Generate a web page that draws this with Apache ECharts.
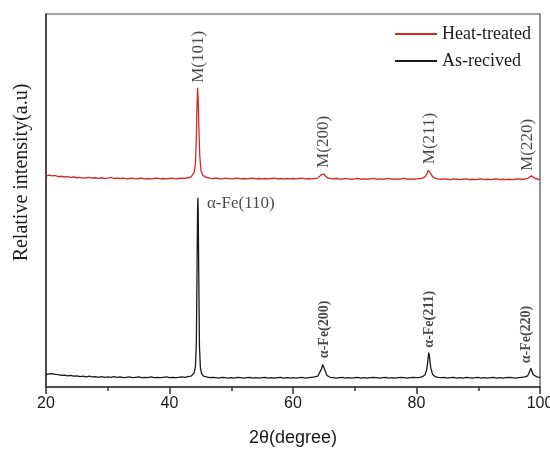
<!DOCTYPE html>
<html>
<head>
<meta charset="utf-8">
<script src="https://cdn.jsdelivr.net/npm/echarts@6/dist/echarts.min.js"></script>
<style>
  html, body { margin: 0; padding: 0; background: #fff; overflow: hidden; }
  #chart { width: 550px; height: 450px; }
</style>
</head>
<body>
<div id="chart"></div>
<script>
// XRD patterns: [2θ (degree), relative intensity]
const heatTreated = [
  [20, 56.5], [20.5, 56.8], [21, 56.6], [21.5, 56.7], [22, 56.4], [22.5, 56.5], [23, 56.3], [23.5, 56.4],
  [24, 56.2], [24.5, 56.3], [25, 56.1], [25.5, 56.2], [26, 56.0], [26.5, 56.1], [27, 56.2], [27.5, 56.0],
  [28, 56.1], [28.5, 55.9], [29, 56.1], [29.5, 55.9], [30, 56.0], [30.5, 56.2], [31, 55.9], [31.5, 56.0],
  [32, 55.9], [32.5, 56.0], [33, 55.8], [33.5, 55.9], [34, 56.0], [34.5, 55.8], [35, 55.9], [35.5, 56.0],
  [36, 55.8], [36.5, 55.9], [37, 55.8], [37.5, 55.9], [38, 56.0], [38.5, 55.8], [39, 55.9], [39.5, 55.8],
  [40, 55.9], [40.5, 56.0], [41, 55.8], [41.5, 55.9], [42, 56.0], [42.5, 55.9], [43, 56.1], [43.5, 56.3],
  [43.8, 56.8], [44.0, 57.6], [44.2, 60.0], [44.35, 67.0], [44.45, 75.0], [44.55, 80.2], [44.65, 77.0],
  [44.75, 70.0], [44.9, 62.0], [45.1, 58.0], [45.4, 56.8], [45.8, 56.3], [46, 56.1], [46.5, 56.0],
  [47, 55.9], [47.5, 56.0], [48, 55.9], [48.5, 55.8], [49, 56.0], [49.5, 55.9], [50, 55.8], [50.5, 55.9],
  [51, 56.0], [51.5, 55.8], [52, 55.9], [52.5, 55.8], [53, 55.9], [53.5, 56.0], [54, 55.8], [54.5, 55.9],
  [55, 55.8], [55.5, 55.9], [56, 55.8], [56.5, 55.9], [57, 56.0], [57.5, 55.8], [58, 55.9], [58.5, 55.8],
  [59, 55.9], [59.5, 55.8], [60, 55.9], [60.5, 55.8], [61, 55.9], [61.5, 56.0], [62, 55.8], [62.5, 55.9],
  [63, 55.8], [63.5, 55.9], [64, 56.0], [64.3, 56.3], [64.6, 56.9], [64.8, 57.4], [65.0, 57.1], [65.3, 56.5],
  [65.7, 56.0], [66, 55.9], [66.5, 55.8], [67, 55.9], [67.5, 55.8], [68, 55.7], [68.5, 55.9], [69, 55.8],
  [69.5, 55.7], [70, 55.8], [70.5, 55.9], [71, 55.7], [71.5, 55.8], [72, 55.7], [72.5, 55.8], [73, 55.9],
  [73.5, 55.7], [74, 55.8], [74.5, 55.7], [75, 55.8], [75.5, 55.9], [76, 55.7], [76.5, 55.8], [77, 55.7],
  [77.5, 55.8], [78, 55.9], [78.5, 55.7], [79, 55.8], [79.5, 55.7], [80, 55.8], [80.5, 55.9], [81, 56.0],
  [81.4, 56.4], [81.7, 57.2], [81.9, 58.1], [82.0, 58.4], [82.1, 58.1], [82.3, 57.2], [82.6, 56.4], [83, 56.0],
  [83.5, 55.8], [84, 55.7], [84.5, 55.8], [85, 55.7], [85.5, 55.6], [86, 55.8], [86.5, 55.7], [87, 55.6],
  [87.5, 55.7], [88, 55.8], [88.5, 55.6], [89, 55.7], [89.5, 55.6], [90, 55.7], [90.5, 55.8], [91, 55.6],
  [91.5, 55.7], [92, 55.6], [92.5, 55.7], [93, 55.8], [93.5, 55.6], [94, 55.7], [94.5, 55.6], [95, 55.7],
  [95.5, 55.6], [96, 55.7], [96.5, 55.8], [97, 55.7], [97.5, 55.7], [98, 55.9], [98.3, 56.2], [98.6, 56.6],
  [98.9, 56.3], [99.2, 55.9], [99.5, 55.7], [100, 55.6]
];

const asReceived = [
  [20, 3.3], [20.5, 3.5], [21, 3.6], [21.5, 3.4], [22, 3.3], [22.5, 3.1], [23, 3.2], [23.5, 3.0],
  [24, 3.1], [24.5, 2.9], [25, 3.0], [25.5, 2.8], [26, 2.9], [26.5, 2.7], [27, 2.9], [27.5, 2.7],
  [28, 2.8], [28.5, 2.6], [29, 2.8], [29.5, 2.6], [30, 2.7], [30.5, 2.6], [31, 2.8], [31.5, 2.6],
  [32, 2.7], [32.5, 2.5], [33, 2.6], [33.5, 2.7], [34, 2.5], [34.5, 2.6], [35, 2.7], [35.5, 2.5],
  [36, 2.6], [36.5, 2.5], [37, 2.7], [37.5, 2.5], [38, 2.6], [38.5, 2.5], [39, 2.6], [39.5, 2.7],
  [40, 2.5], [40.5, 2.6], [41, 2.5], [41.5, 2.6], [42, 2.7], [42.5, 2.6], [43, 2.8], [43.5, 2.9],
  [43.8, 3.2], [44.0, 3.8], [44.2, 5.5], [44.35, 12.0], [44.45, 30.0], [44.55, 48.0], [44.6, 50.7],
  [44.65, 47.0], [44.75, 28.0], [44.85, 11.0], [45.0, 5.2], [45.2, 3.6], [45.5, 2.9], [46, 2.7],
  [46.5, 2.5], [47, 2.6], [47.5, 2.5], [48, 2.4], [48.5, 2.6], [49, 2.5], [49.5, 2.4], [50, 2.5],
  [50.5, 2.4], [51, 2.6], [51.5, 2.5], [52, 2.4], [52.5, 2.5], [53, 2.6], [53.5, 2.4], [54, 2.5],
  [54.5, 2.4], [55, 2.5], [55.5, 2.6], [56, 2.4], [56.5, 2.5], [57, 2.4], [57.5, 2.5], [58, 2.6],
  [58.5, 2.4], [59, 2.5], [59.5, 2.4], [60, 2.5], [60.5, 2.4], [61, 2.5], [61.5, 2.6], [62, 2.4],
  [62.5, 2.5], [63, 2.6], [63.5, 2.7], [64, 2.9], [64.3, 3.4], [64.6, 4.8], [64.8, 6.0], [64.9, 6.4],
  [65.0, 6.0], [65.2, 4.4], [65.5, 3.1], [66, 2.6], [66.5, 2.5], [67, 2.4], [67.5, 2.5], [68, 2.6],
  [68.5, 2.4], [69, 2.5], [69.5, 2.4], [70, 2.5], [70.5, 2.6], [71, 2.4], [71.5, 2.5], [72, 2.4],
  [72.5, 2.5], [73, 2.6], [73.5, 2.5], [74, 2.4], [74.5, 2.5], [75, 2.6], [75.5, 2.4], [76, 2.5],
  [76.5, 2.4], [77, 2.5], [77.5, 2.6], [78, 2.5], [78.5, 2.4], [79, 2.5], [79.5, 2.6], [80, 2.5],
  [80.5, 2.6], [81, 2.8], [81.4, 3.3], [81.7, 5.0], [81.9, 8.0], [82.0, 9.2], [82.1, 8.2], [82.3, 5.2],
  [82.6, 3.4], [83, 2.8], [83.5, 2.6], [84, 2.5], [84.5, 2.6], [85, 2.4], [85.5, 2.5], [86, 2.6],
  [86.5, 2.4], [87, 2.5], [87.5, 2.4], [88, 2.6], [88.5, 2.5], [89, 2.4], [89.5, 2.5], [90, 2.6],
  [90.5, 2.4], [91, 2.5], [91.5, 2.4], [92, 2.5], [92.5, 2.6], [93, 2.4], [93.5, 2.5], [94, 2.4],
  [94.5, 2.5], [95, 2.6], [95.5, 2.5], [96, 2.4], [96.5, 2.5], [97, 2.6], [97.5, 2.7], [98, 3.0],
  [98.3, 4.0], [98.5, 5.0], [98.7, 4.2], [98.9, 3.3], [99.2, 2.8], [99.5, 2.7], [100, 2.6]
];

// Indexed reflections: [label, 2θ, peak intensity]
const martensitePeaks = [
  ['M(101)', 44.55, 80.2],
  ['M(200)', 64.8, 57.4],
  ['M(211)', 82.0, 58.4],
  ['M(220)', 98.6, 56.6]
];
const ferritePeaks = [
  ['α-Fe(200)', 64.9, 6.4],
  ['α-Fe(211)', 82.0, 9.2],
  ['α-Fe(220)', 98.5, 5.0]
];
const ferriteMainPeak = ['α-Fe(110)', 44.6, 50.7];

const xTicks = [20, 40, 60, 80, 100];

const SERIF = '"Liberation Serif", "Times New Roman", serif';
const SANS = '"Liberation Sans", Arial, sans-serif';

const chart = echarts.init(document.getElementById('chart'), null, { renderer: 'canvas', width: 550, height: 450 });

// Vertical peak annotation; the offset is in the rotated text frame
// ([along text, across text]), so labels by the right frame shift left via the second term
function verticalLabel(p, font) {
  const nearFrame = p[1] > 97;
  return {
    value: [p[1], p[2]],
    label: {
      show: true,
      formatter: p[0],
      position: 'top',
      distance: 5,
      rotate: 90,
      align: 'left',
      verticalAlign: 'middle',
      offset: nearFrame ? [0, -4] : [0, 1],
      color: '#1a1a1a',
      fontFamily: SERIF,
      fontSize: font.size,
      fontWeight: font.weight
    }
  };
}

const labelData = []
  .concat(martensitePeaks.map(p => verticalLabel(p, { size: 17, weight: 'normal' })))
  .concat(ferritePeaks.map(p => verticalLabel(p, { size: 14, weight: 'bold' })))
  .concat([{
    value: [ferriteMainPeak[1], ferriteMainPeak[2]],
    label: {
      show: true,
      formatter: ferriteMainPeak[0],
      position: 'right',
      distance: 9,
      offset: [0, 6],
      color: '#1a1a1a',
      fontFamily: SERIF,
      fontSize: 17
    }
  }]);

chart.setOption({
  animation: false,
  backgroundColor: '#ffffff',
  grid: {
    left: 46, right: 10, top: 14, bottom: 63,
    outerBoundsMode: 'none',
    containLabel: false,
    show: true, borderColor: '#4a4a4a', borderWidth: 1.2, backgroundColor: 'transparent'
  },
  legend: {
    data: ['Heat-treated', 'As-recived'],
    orient: 'vertical',
    right: 14,
    top: 20,
    itemWidth: 42,
    itemHeight: 14,
    itemGap: 9,
    itemStyle: { opacity: 0 },
    textStyle: { fontFamily: SERIF, fontSize: 18, color: '#1a1a1a' }
  },
  xAxis: {
    type: 'value',
    min: xTicks[0],
    max: xTicks[xTicks.length - 1],
    interval: 20,
    name: '2θ(degree)',
    nameLocation: 'middle',
    nameGap: 42,
    nameTextStyle: { fontFamily: SANS, fontSize: 18, color: '#1a1a1a' },
    axisLine: { show: true, onZero: false, lineStyle: { color: '#333', width: 1.5 } },
    axisTick: { show: true, inside: false, length: 7, lineStyle: { color: '#333', width: 1.5 } },
    minorTick: { show: true, splitNumber: 2, length: 4, lineStyle: { color: '#333', width: 1.5 } },
    axisLabel: { fontFamily: SANS, fontSize: 16, color: '#1a1a1a', margin: 9 },
    splitLine: { show: false }
  },
  yAxis: {
    type: 'value',
    min: 0,
    max: 100,
    name: 'Relative intensity(a.u)',
    nameLocation: 'middle',
    nameGap: 14,
    nameTextStyle: { fontFamily: SERIF, fontSize: 20, color: '#1a1a1a', padding: [0, 0, 0, 56] },
    axisLine: { show: true, onZero: false, lineStyle: { color: '#333', width: 1.5 } },
    axisTick: { show: false },
    axisLabel: { show: false },
    splitLine: { show: false }
  },
  series: [
    {
      name: 'Heat-treated',
      type: 'line',
      data: heatTreated,
      symbol: 'none',
      lineStyle: { color: '#d42a2a', width: 1.3 },
      itemStyle: { color: '#d42a2a' }
    },
    {
      name: 'As-recived',
      type: 'line',
      data: asReceived,
      symbol: 'none',
      lineStyle: { color: '#1a1a1a', width: 1.3 },
      itemStyle: { color: '#1a1a1a' }
    },
    {
      name: 'peak labels',
      type: 'scatter',
      symbolSize: 0,
      silent: true,
      data: labelData
    }
  ]
});
</script>
</body>
</html>
